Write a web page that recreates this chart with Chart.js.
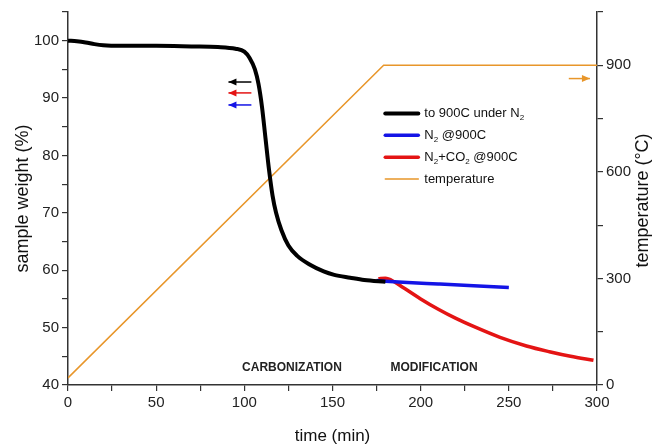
<!DOCTYPE html>
<html>
<head>
<meta charset="utf-8">
<script src="https://cdn.jsdelivr.net/npm/chart.js@4.4.1/dist/chart.umd.min.js"></script>
<style>
  html, body { margin: 0; padding: 0; background: #fff; }
  #wrap { width: 663px; height: 447px; }
</style>
</head>
<body>
<div id="wrap"><canvas id="tgaChart"></canvas></div>
<script>
// ===================== data =====================
// black: heating to 900C under N2
var blackTime = [0, 5, 10, 15, 20, 30, 50, 70, 85, 95, 100, 103, 106, 108, 110, 112, 114, 116, 118, 121, 125, 130, 137, 145, 151, 160, 168, 180];
var blackWeight = [100, 99.9, 99.7, 99.4, 99.2, 99.1, 99.1, 99.0, 98.9, 98.6, 98.1, 97.0, 95.0, 92.5, 88.5, 83, 77.5, 73, 70, 67, 64.3, 62.5, 61, 59.8, 59.2, 58.7, 58.3, 58.0];

// blue: hold N2 @900C
var blueTime = [175, 190, 210, 230, 250];
var blueWeight = [58.2, 57.9, 57.6, 57.3, 57.0];

// red: N2+CO2 @900C
var redTime = [176, 180, 185, 190, 200, 210, 220, 230, 245, 260, 273, 285, 298];
var redWeight = [58.5, 58.6, 58.0, 57.0, 55.0, 53.2, 51.6, 50.2, 48.3, 46.8, 45.8, 45.0, 44.3];

// orange: furnace temperature (right axis)
var tempTime = [0, 179, 300];
var tempValue = [20, 900, 900];

var legendLabels = ['to 900C under N|2', 'N|2| @900C', 'N|2|+CO|2| @900C', 'temperature'];
var stageLabels = ['CARBONIZATION', 'MODIFICATION'];

// ====================================================================
function toPoints(xs, ys) {
  return xs.map((x, i) => ({ x: x, y: ys[i] }));
}

var colBlack = '#000000';
var colBlue = '#1414e6';
var colRed = '#e41414';
var colOrange = '#e8962a';
var FONT = '"Liberation Sans", Arial, sans-serif';

// draw text with "|" toggling subscript
function drawSubText(ctx, str, x, y, size) {
  var parts = str.split('|');
  var cx = x;
  parts.forEach((p, i) => {
    var sub = i % 2 == 1;
    ctx.font = (sub ? size * 0.62 : size) + 'px ' + FONT;
    ctx.fillText(p, cx, sub ? y + size * 0.35 : y);
    cx += ctx.measureText(p).width;
  });
}

function arrow(ctx, x1, x2, y, color, dir) {
  ctx.save();
  ctx.strokeStyle = color;
  ctx.fillStyle = color;
  ctx.lineWidth = 1.5;
  ctx.beginPath();
  ctx.moveTo(x1, y);
  ctx.lineTo(x2, y);
  ctx.stroke();
  var tip = dir < 0 ? x1 : x2;
  ctx.beginPath();
  ctx.moveTo(tip, y);
  ctx.lineTo(tip - dir * 8, y - 3.5);
  ctx.lineTo(tip - dir * 8, y + 3.5);
  ctx.closePath();
  ctx.fill();
  ctx.restore();
}

// ===================== annotation plugin ============================
const extras = {
  id: 'extras',
  afterDatasetsDraw(chart) {
    const ctx = chart.ctx;
    const xs = chart.scales.x;
    const ys = chart.scales.y;
    const area = chart.chartArea;

    // arrows pointing to the axis each curve belongs to
    arrow(ctx, xs.getPixelForValue(91), xs.getPixelForValue(104), ys.getPixelForValue(92.8), colBlack, -1);
    arrow(ctx, xs.getPixelForValue(91), xs.getPixelForValue(104), ys.getPixelForValue(90.9), colRed, -1);
    arrow(ctx, xs.getPixelForValue(91), xs.getPixelForValue(104), ys.getPixelForValue(88.8), colBlue, -1);
    arrow(ctx, xs.getPixelForValue(284), xs.getPixelForValue(296), ys.getPixelForValue(93.4), colOrange, 1);

    // stage labels
    ctx.save();
    ctx.fillStyle = '#222';
    ctx.font = 'bold 12px ' + FONT;
    ctx.textAlign = 'center';
    ctx.textBaseline = 'middle';
    ctx.fillText(stageLabels[0], xs.getPixelForValue(127), ys.getPixelForValue(43.1));
    ctx.fillText(stageLabels[1], xs.getPixelForValue(207.6), ys.getPixelForValue(43.1));
    ctx.restore();

    // legend
    ctx.save();
    var lx = xs.getPixelForValue(180.5);
    var ly = ys.getPixelForValue(87.3);
    var cols = [colBlack, colBlue, colRed, colOrange];
    var widths = [4, 3.5, 3.5, 1.5];
    ctx.textBaseline = 'middle';
    ctx.fillStyle = '#111';
    legendLabels.forEach((lab, i) => {
      var y = ly + i * 21.8;
      ctx.strokeStyle = cols[i];
      ctx.lineWidth = widths[i];
      ctx.lineCap = 'round';
      ctx.beginPath();
      ctx.moveTo(lx - 1, y);
      ctx.lineTo(lx + 32, y);
      ctx.stroke();
      drawSubText(ctx, lab, lx + 38, y, 13);
    });
    ctx.restore();

    // right axis title, reading bottom to top like the left one
    ctx.save();
    ctx.fillStyle = '#111';
    ctx.font = '18px ' + FONT;
    ctx.textAlign = 'center';
    ctx.textBaseline = 'middle';
    ctx.translate(area.right + 46, (area.top + area.bottom) / 2 + 2);
    ctx.rotate(-Math.PI / 2);
    ctx.fillText('temperature (°C)', 0, 0);
    ctx.restore();
  }
};

// ===================== chart ========================================
var ctxTga = document.getElementById('tgaChart').getContext('2d');

const axisColor = '#333';
const tickFont = { family: FONT, size: 15 };

const tgaChart = new Chart(ctxTga, {
  type: 'line',
  data: {
    datasets: [{
      label: 'to 900C under N2',
      data: toPoints(blackTime, blackWeight),
      borderColor: colBlack,
      borderWidth: 4,
      yAxisID: 'y'
    }, {
      label: 'N2 @900C',
      data: toPoints(blueTime, blueWeight),
      borderColor: colBlue,
      borderWidth: 3.5,
      yAxisID: 'y'
    }, {
      label: 'N2+CO2 @900C',
      data: toPoints(redTime, redWeight),
      borderColor: colRed,
      borderWidth: 3.5,
      yAxisID: 'y'
    }, {
      label: 'temperature',
      data: toPoints(tempTime, tempValue),
      borderColor: colOrange,
      borderWidth: 1.5,
      tension: 0,
      cubicInterpolationMode: 'default',
      yAxisID: 'y2'
    }]
  },
  options: {
    responsive: true,
    maintainAspectRatio: false,
    animation: false,
    layout: { padding: { top: 12 } },
    elements: {
      point: { radius: 0 },
      line: { cubicInterpolationMode: 'monotone', fill: false }
    },
    plugins: {
      legend: { display: false },
      tooltip: { enabled: false }
    },
    scales: {
      x: {
        type: 'linear',
        min: 0,
        max: 300,
        afterFit: s => { s.height = 62; },
        border: { color: axisColor, width: 1.5 },
        grid: { drawOnChartArea: false, drawTicks: true, tickLength: 6, color: axisColor, lineWidth: 1.2 },
        ticks: {
          stepSize: 25, autoSkip: false, maxRotation: 0, color: '#222', font: tickFont, padding: 3,
          callback: v => (v % 50 == 0 ? v : '')
        },
        title: { display: true, text: 'time (min)', color: '#111', font: { family: FONT, size: 17 }, padding: { top: 4, bottom: 0 } }
      },
      y: {
        position: 'left',
        min: 40,
        max: 105,
        afterFit: s => { s.width = 68; },
        border: { color: axisColor, width: 1.5 },
        grid: { drawOnChartArea: false, drawTicks: true, tickLength: 6, color: axisColor, lineWidth: 1.2 },
        ticks: {
          stepSize: 5, autoSkip: false, color: '#222', font: tickFont, padding: 3,
          callback: v => (v % 10 == 0 && v <= 100 ? v : '')
        },
        title: { display: true, text: 'sample weight (%)', color: '#111', font: { family: FONT, size: 18 }, padding: { top: 12, bottom: 0 } }
      },
      y2: {
        position: 'right',
        min: 0,
        max: 1050,
        afterFit: s => { s.width = 66; },
        border: { color: axisColor, width: 1.5 },
        grid: { drawOnChartArea: false, drawTicks: true, tickLength: 6, color: axisColor, lineWidth: 1.2 },
        ticks: {
          stepSize: 150, autoSkip: false, color: '#222', font: tickFont, padding: 3,
          callback: v => (v % 300 == 0 && v <= 900 ? v : '')
        },
        title: { display: false }
      }
    }
  },
  plugins: [extras]
});
</script>
</body>
</html>
